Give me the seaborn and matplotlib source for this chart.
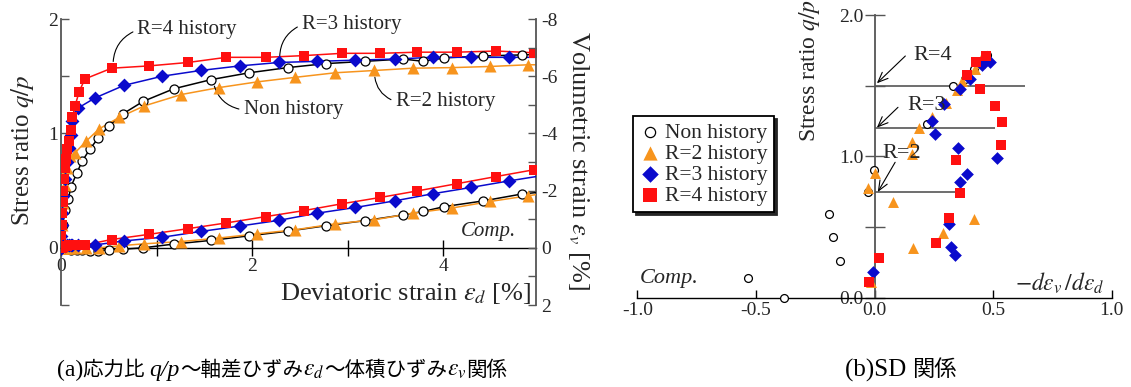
import numpy as np
import pandas as pd
import matplotlib
matplotlib.use('Agg')
import matplotlib.pyplot as plt
import seaborn as sns
from matplotlib.offsetbox import TextArea, HPacker, AnchoredOffsetbox
from matplotlib.font_manager import FontProperties
from matplotlib.ticker import FixedLocator, FixedFormatter

sns.set_theme(style='white')
plt.rcParams['font.family'] = ['Liberation Serif', 'Noto Sans CJK JP']
plt.rcParams['mathtext.fontset'] = 'stix'

# ---------------- data: (a) stress ratio / volumetric strain vs deviatoric strain
series_names = ["Non history", "R=2 history", "R=3 history", "R=4 history"]

non_ed = [0, 0.02, 0.04, 0.077, 0.105, 0.164, 0.22, 0.30, 0.39, 0.50, 0.646, 0.86, 1.18, 1.57, 1.97,
          2.37, 2.77, 3.18, 3.58, 3.79, 4.01, 4.42, 4.82, 4.97]
non_qp = [0, 0.20, 0.33, 0.43, 0.535, 0.65, 0.755, 0.86, 0.96, 1.065, 1.17, 1.28, 1.39, 1.47, 1.53,
          1.575, 1.61, 1.63, 1.65, 1.63, 1.66, 1.677, 1.686, 1.69]
non_ev = [0, 0.01, 0.03, 0.05, 0.06, 0.08, 0.09, 0.10, 0.10, 0.07, 0.05, 0.0, -0.13, -0.26, -0.42,
          -0.58, -0.77, -0.95, -1.15, -1.27, -1.44, -1.64, -1.88, -1.93]

r2_ed = [0, 0.007, 0.02, 0.04, 0.06, 0.094, 0.147, 0.26, 0.40, 0.61, 0.87, 1.26, 1.65, 2.05, 2.45,
         2.87, 3.28, 3.68, 4.09, 4.49, 4.89, 4.97]
r2_qp = [0, 0.2, 0.39, 0.55, 0.7, 0.80, 0.83, 0.93, 1.04, 1.14, 1.24, 1.34, 1.40, 1.45, 1.49,
         1.53, 1.55, 1.57, 1.575, 1.585, 1.60, 1.60]
r2_ev = [0, 0.0, 0.0, 0.01, 0.01, 0.02, 0.02, 0.02, 0.0, -0.07, -0.14, -0.22, -0.34, -0.49, -0.63,
         -0.84, -0.98, -1.21, -1.39, -1.62, -1.82, -1.86]

r3_ed = [0, 0.005, 0.01, 0.015, 0.024, 0.04, 0.06, 0.087, 0.105, 0.12, 0.175, 0.356, 0.66, 1.06, 1.46,
         1.87, 2.28, 2.68, 3.08, 3.49, 3.89, 4.29, 4.69, 4.97]
r3_qp = [0, 0.1, 0.2, 0.3, 0.45, 0.6, 0.75, 0.87, 0.99, 1.11, 1.22, 1.31, 1.42, 1.50, 1.55,
         1.59, 1.62, 1.63, 1.64, 1.65, 1.665, 1.665, 1.665, 1.665]
r3_ev = [0, 0.0, -0.02, -0.04, -0.06, -0.08, -0.09, -0.1, -0.1, -0.1, -0.1, -0.1, -0.24, -0.37, -0.57,
         -0.76, -0.96, -1.21, -1.41, -1.64, -1.89, -2.11, -2.34, -2.49]

r4_ed = [0, 0.005, 0.01, 0.015, 0.02, 0.025, 0.03, 0.04, 0.05, 0.065, 0.087, 0.10, 0.12, 0.147, 0.19,
         0.25, 0.53, 0.92, 1.33, 1.73, 2.14, 2.54, 2.94, 3.34, 3.73, 4.14, 4.55, 4.95, 4.97]
r4_qp = [0, 0.1, 0.2, 0.3, 0.4, 0.5, 0.6, 0.7, 0.78, 0.86, 0.93, 1.03, 1.14, 1.24, 1.365,
         1.476, 1.57, 1.59, 1.62, 1.665, 1.665, 1.68, 1.70, 1.70, 1.71, 1.71, 1.72, 1.705, 1.705]
r4_ev = [0, 0, -0.01, -0.02, -0.03, -0.04, -0.05, -0.06, -0.07, -0.08, -0.09, -0.09, -0.1, -0.1, -0.1,
         -0.1, -0.29, -0.47, -0.67, -0.87, -1.09, -1.30, -1.54, -1.76, -1.99, -2.24, -2.49, -2.73, -2.74]

# ---------------- data: (b) stress-dilatancy relation
sd_non_x = [-0.38, -0.534, -0.145, -0.173, -0.19, -0.028, -0.004, 0.22, 0.333, 0.38, 0.42, 0.45, 0.474]
sd_non_y = [0.0, 0.137, 0.26, 0.43, 0.59, 0.75, 0.90, 1.23, 1.50, 1.55, 1.62, 1.67, 1.72]

sd_r2_x = [-0.015, -0.028, 0.0, 0.08, 0.162, 0.289, 0.42, 0.158, 0.158, 0.186, 0.242, 0.30, 0.348,
           0.369, 0.397, 0.425, 0.446, 0.455]
sd_r2_y = [0.113, 0.774, 0.885, 0.68, 0.35, 0.455, 0.56, 1.02, 1.10, 1.20, 1.28, 1.38, 1.47,
           1.53, 1.576, 1.62, 1.66, 1.70]

sd_r3_x = [-0.007, 0.34, 0.324, 0.312, 0.362, 0.39, 0.516, 0.354, 0.256, 0.242, 0.294, 0.359, 0.404,
           0.453, 0.47, 0.485]
sd_r3_y = [0.184, 0.30, 0.357, 0.52, 0.82, 0.873, 0.986, 1.057, 1.158, 1.253, 1.37, 1.48, 1.545,
           1.647, 1.68, 1.67]

sd_r4_x = [-0.025, 0.021, 0.26, 0.315, 0.362, 0.343, 0.535, 0.538, 0.506, 0.443, 0.39, 0.429, 0.47]
sd_r4_y = [0.113, 0.283, 0.385, 0.562, 0.743, 0.974, 1.08, 1.24, 1.357, 1.475, 1.576, 1.67, 1.71]

# reference levels in (b)
ref_labels = ["R=4", "R=3", "R=2"]
ref_levels = [1.50, 1.20, 0.746]
ref_extent = [0.636, 0.51, 0.348]

# ---------------- styles
colors = {"Non history": "black", "R=2 history": "#F7941D", "R=3 history": "#0A0ACC", "R=4 history": "#FF1010"}
markers = {"Non history": "o", "R=2 history": "^", "R=3 history": "D", "R=4 history": "s"}
sizes_a = {"Non history": 42, "R=2 history": 75, "R=3 history": 50, "R=4 history": 62}
sizes_b = {"Non history": 32, "R=2 history": 62, "R=3 history": 42, "R=4 history": 52}

W, H = 1131, 387
fig = plt.figure(figsize=(W / 100, H / 100), dpi=100)
fig.patch.set_facecolor('white')

def fx(px):
    return px / W

def fy(py):
    return 1 - py / H

axis_gray = '#555555'

# ================= panel (a)
ax1 = fig.add_axes([fx(61), fy(305), (536 - 61) / W, (305 - 19) / H])
ax1r = ax1.twinx()
ax1.set_xlim(0, 4.97)
ax1.set_ylim(-0.5, 2.0)
ax1r.set_ylim(2.0, -8.0)
for a in (ax1, ax1r):
    a.set_facecolor('none')
    a.grid(False)

stress = {
    "Non history": (non_ed, non_qp, non_ev),
    "R=2 history": (r2_ed, r2_qp, r2_ev),
    "R=3 history": (r3_ed, r3_qp, r3_ev),
    "R=4 history": (r4_ed, r4_qp, r4_ev),
}
order = ["Non history", "R=2 history", "R=3 history", "R=4 history"]
for name in order:
    ed, qp, ev = stress[name]
    c = colors[name]
    df = pd.DataFrame({"ed": ed, "qp": qp, "ev": ev})
    mk = df.iloc[:-1]
    face = 'white' if name == "Non history" else c
    sns.lineplot(data=df, x="ed", y="qp", ax=ax1, color=c, lw=1.1, sort=False, estimator=None, zorder=3)
    sns.scatterplot(data=mk, x="ed", y="qp", ax=ax1, marker=markers[name], s=sizes_a[name],
                    color=face, edgecolor=c, linewidth=0.9 if name == "Non history" else 0, zorder=4)
    sns.lineplot(data=df, x="ed", y="ev", ax=ax1r, color=c, lw=1.1, sort=False, estimator=None, zorder=3)
    sns.scatterplot(data=mk, x="ed", y="ev", ax=ax1r, marker=markers[name], s=sizes_a[name],
                    color=face, edgecolor=c, linewidth=0.9 if name == "Non history" else 0, zorder=4)

for a in (ax1, ax1r):
    a.set_xlabel('')
    a.set_ylabel('')
    if a.get_legend():
        a.get_legend().remove()

# spines
ax1.spines['top'].set_visible(False)
ax1.spines['right'].set_visible(False)
ax1.spines['bottom'].set_position(('data', 0))
ax1.spines['bottom'].set_color('black')
ax1.spines['bottom'].set_linewidth(1.0)
ax1.spines['left'].set_color(axis_gray)
ax1.spines['left'].set_linewidth(1.3)
for s in ('top', 'left', 'bottom'):
    ax1r.spines[s].set_visible(False)
ax1r.spines['right'].set_color(axis_gray)
ax1r.spines['right'].set_linewidth(1.3)

ax1.xaxis.set_major_locator(FixedLocator([0, 2, 4]))
ax1.xaxis.set_major_formatter(FixedFormatter(['0', '2', '4']))
ax1.xaxis.set_minor_locator(FixedLocator([1, 3]))
ax1.tick_params(axis='x', which='both', direction='inout', length=11, width=1.0, color='black',
                labelsize=14, pad=2, bottom=True, top=False)
ax1.yaxis.set_major_locator(FixedLocator([0, 1, 2]))
ax1.yaxis.set_major_formatter(FixedFormatter(['0', '1', '2']))
ax1.yaxis.set_minor_locator(FixedLocator([-0.5, 0.5, 1.5]))
ax1.tick_params(axis='y', which='both', direction='in', length=6, width=1.0, color=axis_gray,
                labelsize=14, pad=2, left=True, right=False)
ax1r.yaxis.set_major_locator(FixedLocator([-8, -6, -4, -2, 0, 2]))
ax1r.yaxis.set_major_formatter(FixedFormatter(['-8', '-6', '-4', '-2', '0', '2']))
ax1r.yaxis.set_minor_locator(FixedLocator([-7, -5, -3, -1, 1]))
ax1r.tick_params(axis='y', which='both', direction='in', length=6, width=1.0, color=axis_gray,
                 labelsize=14, pad=4, right=True, left=False)

# labels for panel (a)
fig.text(fx(22), fy(150), r'Stress ratio $q/p$', rotation=90, ha='center', va='center', fontsize=18)
fig.text(fx(578), fy(161), r'Volumetric strain $\varepsilon_v$ [%]', rotation=270, ha='center',
         va='center', fontsize=19)
fig.text(fx(531), fy(293), r'Deviatoric strain $\varepsilon_d$ [%]', ha='right', va='center', fontsize=19)
ax1.text(4.47, 0.14, 'Comp.', style='italic', ha='center', va='center', fontsize=15)

lead = dict(arrowstyle='-', color='black', lw=0.8, shrinkA=1, shrinkB=4)
ax1.annotate('R=4 history', xy=(0.545, 1.58), xytext=(0.80, 1.905), ha='left', va='center', fontsize=15,
             arrowprops=dict(lead, relpos=(0, 0.5), connectionstyle='arc3,rad=0.35'))
ax1.annotate('R=3 history', xy=(2.29, 1.625), xytext=(2.52, 1.95), ha='left', va='center', fontsize=15,
             arrowprops=dict(lead, relpos=(0, 0.5), connectionstyle='arc3,rad=0.35'))
ax1.annotate('Non history', xy=(1.59, 1.46), xytext=(1.91, 1.205), ha='left', va='center', fontsize=15,
             arrowprops=dict(lead, relpos=(0, 0.5), connectionstyle='arc3,rad=-0.35'))
ax1.annotate('R=2 history', xy=(3.28, 1.54), xytext=(3.5, 1.278), ha='left', va='center', fontsize=15,
             arrowprops=dict(lead, relpos=(0, 0.5), connectionstyle='arc3,rad=-0.35'))

# ================= panel (b)
ax2 = fig.add_axes([fx(637.3), fy(297.7), (1111.7 - 637.3) / W, (297.7 - 15) / H])
ax2.set_facecolor('none')
ax2.grid(False)
ax2.set_xlim(-1.0, 1.0)
ax2.set_ylim(0.0, 2.0)

sd = {
    "Non history": (sd_non_x, sd_non_y),
    "R=2 history": (sd_r2_x, sd_r2_y),
    "R=3 history": (sd_r3_x, sd_r3_y),
    "R=4 history": (sd_r4_x, sd_r4_y),
}
for lab, lvl, ext in zip(ref_labels, ref_levels, ref_extent):
    ax2.hlines(lvl, 0, ext, color=axis_gray, lw=1.2, zorder=2)

for name in order:
    x, y = sd[name]
    c = colors[name]
    face = 'white' if name == "Non history" else c
    sns.scatterplot(x=x, y=y, ax=ax2, marker=markers[name], s=sizes_b[name], color=face,
                    edgecolor=c, linewidth=0.9 if name == "Non history" else 0, label=name, zorder=4,
                    clip_on=False)

# arrows to reference levels
arrow_from = [(0.13, 1.71), (0.099, 1.347), (0.087, 0.958)]
arrow_to = [(0.01, 1.517), (0.01, 1.203), (0.014, 0.748)]
text_pos = [(0.165, 1.717), (0.137, 1.357), (0.035, 1.017)]
for lab, a0, a1, tp in zip(ref_labels, arrow_from, arrow_to, text_pos):
    ax2.annotate('', xy=a1, xytext=a0,
                 arrowprops=dict(arrowstyle='->,head_length=0.6,head_width=0.25', color='black', lw=0.8,
                                 shrinkA=0, shrinkB=0))
    ax2.text(tp[0], tp[1], lab, ha='left', va='center', fontsize=16, zorder=5)

ax2.spines['top'].set_visible(False)
ax2.spines['right'].set_visible(False)
ax2.spines['left'].set_position(('data', 0))
ax2.spines['left'].set_color(axis_gray)
ax2.spines['left'].set_linewidth(1.3)
ax2.spines['bottom'].set_color('black')
ax2.spines['bottom'].set_linewidth(1.0)
ax2.xaxis.set_major_locator(FixedLocator([-1.0, -0.5, 0.0, 0.5, 1.0]))
ax2.xaxis.set_major_formatter(FixedFormatter(['-1.0', '-0.5', '0.0', '0.5', '1.0']))
ax2.tick_params(axis='x', which='both', direction='in', length=6, width=1.0, color='black',
                labelsize=14, pad=3, bottom=True, top=False)
ax2.yaxis.set_major_locator(FixedLocator([0.0, 1.0, 2.0]))
ax2.yaxis.set_major_formatter(FixedFormatter(['0.0', '1.0', '2.0']))
ax2.yaxis.set_minor_locator(FixedLocator([0.5, 1.5]))
ax2.tick_params(axis='y', which='both', direction='inout', length=14, width=1.0, color=axis_gray,
                labelsize=14, pad=1, left=True, right=False)
ax2.set_xlabel('')
ax2.set_ylabel('')

fig.text(fx(810), fy(70), r'Stress ratio $q/p$', rotation=90, ha='center', va='center', fontsize=17)
ax2.text(0.97, 0.10, r'$-d\varepsilon_v\,/d\varepsilon_d$', ha='right', va='center', fontsize=17)
ax2.text(-0.99, 0.135, 'Comp.', style='italic', ha='left', va='center', fontsize=16)

h, l = ax2.get_legend_handles_labels()
if ax2.get_legend():
    ax2.get_legend().remove()
leg = fig.legend(h, l, loc='upper left', bbox_to_anchor=(fx(633), fy(116)), frameon=True,
                 fancybox=False, shadow={'color': '0.15', 'alpha': 1.0}, fontsize=15.5,
                 handletextpad=0.2, borderpad=0.3, labelspacing=0.05, markerscale=1.3,
                 handlelength=1.0, borderaxespad=0)
leg.get_frame().set_edgecolor('black')
leg.get_frame().set_linewidth(1.3)
leg.get_frame().set_alpha(1.0)

# ================= captions
fp_lat = FontProperties(family='Liberation Serif', size=17)
fp_it = FontProperties(family='Liberation Serif', style='italic', size=17)
fp_cjk = FontProperties(family='Noto Sans CJK JP', size=14.8)
parts = [("(a)", fp_lat), ("応力比 ", fp_cjk), ("q/p", fp_it), ("～軸差ひずみ", fp_cjk),
         (r"$\varepsilon_d$", fp_lat), ("～体積ひずみ", fp_cjk), (r"$\varepsilon_v$", fp_lat), ("関係", fp_cjk)]
areas = [TextArea(t, textprops=dict(fontproperties=fp, color='black')) for t, fp in parts]
box = HPacker(children=areas, align='baseline', pad=0, sep=0)
anch = AnchoredOffsetbox(loc='center left', child=box, pad=0, frameon=False,
                         bbox_to_anchor=(fx(57), fy(370)), bbox_transform=fig.transFigure, borderpad=0)
fig.add_artist(anch)

fp_lat_b = FontProperties(family='Liberation Serif', size=18)
fp_cjk_b = FontProperties(family='Noto Sans CJK JP', size=16)
parts_b = [("(b)SD ", fp_lat_b), ("関係", fp_cjk_b)]
areas_b = [TextArea(t, textprops=dict(fontproperties=fp, color='black')) for t, fp in parts_b]
box_b = HPacker(children=areas_b, align='baseline', pad=0, sep=0)
anch_b = AnchoredOffsetbox(loc='center left', child=box_b, pad=0, frameon=False,
                           bbox_to_anchor=(fx(845), fy(370)), bbox_transform=fig.transFigure, borderpad=0)
fig.add_artist(anch_b)

fig.savefig('out.png', dpi=100, facecolor='white')
